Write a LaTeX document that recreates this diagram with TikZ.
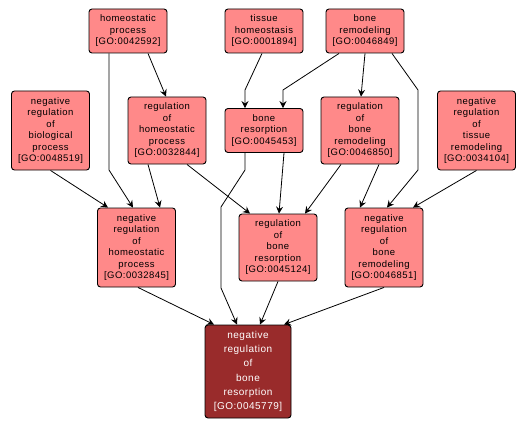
\documentclass[tikz,border=0pt]{standalone}
\usepackage{fontspec}
\setmainfont{Liberation Sans}[LetterSpace=5]
\usepackage{tikz}
\usepackage{xcolor}
\usetikzlibrary{arrows.meta,calc,positioning}
\definecolor{golight}{RGB}{255,137,137}
\definecolor{godark}{RGB}{153,43,43}

\begin{document}
\begin{tikzpicture}[x=1pt,y=-1pt,>=Stealth,
  term/.style={draw=black,line width=0.9pt,rounded corners=3pt,fill=golight,
    align=center,text width=70pt,inner sep=4pt,
    font=\fontsize{9.5}{11.5}\selectfont},
  lines3/.style={minimum height=44pt},
  lines5/.style={minimum height=67pt},
  lines6/.style={minimum height=79pt},
  focus/.style={term,fill=godark,text=white,text width=78pt,minimum height=93pt,
    font=\fontsize{10}{14.2}\selectfont},
  edge/.style={line width=0.8pt,-{Stealth[length=7pt,width=7pt,inset=2.5pt]}}]
  \useasboundingbox (0,0) rectangle (528,428);
  % top row
  \node[term,lines3] (hp) at (128,31) {homeostatic\\process\\{[GO:0042592]}};
  \node[term,lines3] (th) at (264,31) {tissue\\homeostasis\\{[GO:0001894]}};
  \node[term,lines3] (brm) at (365,31) {bone\\remodeling\\{[GO:0046849]}};
  % middle row
  \node[term,lines6] (nrbp) at (50.5,130.5) {negative\\regulation\\of\\biological\\process\\{[GO:0048519]}};
  \node[term,lines5] (rhp) at (167,130.5) {regulation\\of\\homeostatic\\process\\{[GO:0032844]}};
  \node[term,lines3] (br) at (264,130.5) {bone\\resorption\\{[GO:0045453]}};
  \node[term,lines5] (rbrm) at (360,130.5) {regulation\\of\\bone\\remodeling\\{[GO:0046850]}};
  \node[term,lines6] (nrtr) at (476.5,130.5) {negative\\regulation\\of\\tissue\\remodeling\\{[GO:0034104]}};
  % lower row
  \node[term,lines6] (nrhp) at (136.5,247.5) {negative\\regulation\\of\\homeostatic\\process\\{[GO:0032845]}};
  \node[term,lines5] (rbr) at (278,247.5) {regulation\\of\\bone\\resorption\\{[GO:0045124]}};
  \node[term,lines6] (nrbrm) at (384,247.5) {negative\\regulation\\of\\bone\\remodeling\\{[GO:0046851]}};
  \node[focus] (nrbr) at (248,371.5) {negative\\regulation\\of\\bone\\resorption\\{[GO:0045779]}};

  \draw[edge] ([xshift=20]hp.south) -- ([xshift=-1]rhp.north);
  \draw[edge] ([xshift=-19]hp.south) -- (109,170) -- ([xshift=-3.5]nrhp.north);
  \draw[edge] (nrbp.south) -- ([xshift=-28.5]nrhp.north);
  \draw[edge] ([xshift=-19]rhp.south) -- ([xshift=23.5]nrhp.north);
  \draw[edge] ([xshift=20]rhp.south) -- ([xshift=-28]rbr.north);
  \draw[edge] ([xshift=-2]th.south) -- (245,90) -- ([xshift=-19]br.north);
  \draw[edge] ([xshift=-26]brm.south) -- (283,90) -- ([xshift=19]br.north);
  \draw[edge] (brm.south) -- ([xshift=1]rbrm.north);
  \draw[edge] ([xshift=27]brm.south) -- (418,90) -- (418,170) -- ([xshift=3]nrbrm.north);
  \draw[edge] ([xshift=-19]rbrm.south) -- ([xshift=27]rbr.north);
  \draw[edge] ([xshift=19]rbrm.south) -- ([xshift=-24]nrbrm.north);
  \draw[edge] (nrtr.south) -- ([xshift=29]nrbrm.north);
  \draw[edge] ([xshift=20]br.south) -- ([xshift=1]rbr.north);
  \draw[edge] ([xshift=-19]br.south) -- (245,170) -- (221,207) -- (221,288) -- ([xshift=-11]nrbr.north);
  % into the focus term
  \draw[edge] ([xshift=1.5]nrhp.south) -- ([xshift=-34]nrbr.north);
  \draw[edge] (rbr.south) -- ([xshift=12]nrbr.north);
  \draw[edge] (nrbrm.south) -- ([xshift=36]nrbr.north);
\end{tikzpicture}
\end{document}
